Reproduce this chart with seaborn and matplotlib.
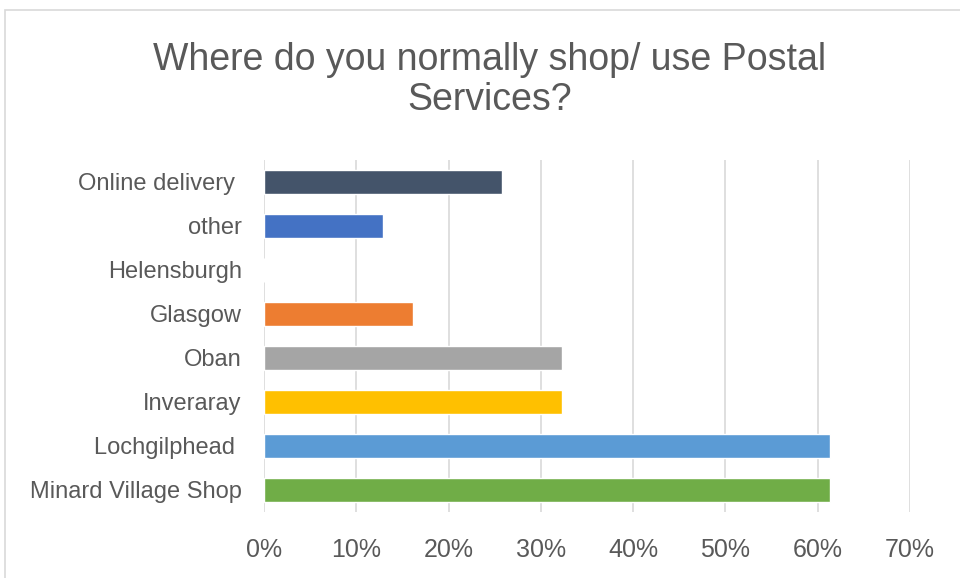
import matplotlib
matplotlib.use("Agg")
import matplotlib.pyplot as plt
import seaborn as sns
import pandas as pd
from matplotlib.patches import Rectangle
from matplotlib.ticker import PercentFormatter

# values (share of respondents, %)
categories = ["Online delivery ", "other", "Helensburgh", "Glasgow", "Oban",
              "Inveraray", "Lochgilphead ", "Minard Village Shop"]
values = [25.8, 12.9, 0.0, 16.1, 32.3, 32.3, 61.3, 61.3]
colors = ["#44546A", "#4472C4", "#A9D18E", "#ED7D31", "#A5A5A5",
          "#FFC000", "#5B9BD5", "#70AD47"]
ticks = [0, 10, 20, 30, 40, 50, 60, 70]

df = pd.DataFrame({"place": categories, "share": values})

sns.set_style("white")
plt.rcParams["font.family"] = ["Liberation Sans", "DejaVu Sans"]
text_col = "#595959"

fig = plt.figure(figsize=(9.6, 5.78), dpi=100)
ax = fig.add_axes([0.275, 0.1142, 0.673, 0.609])

sns.barplot(data=df, x="share", y="place", hue="place", palette=colors,
            legend=False, width=0.55, orient="h", saturation=1, ax=ax)

ax.set_xlim(0, 70)
ax.set_xticks(ticks)
ax.xaxis.set_major_formatter(PercentFormatter(decimals=0))
ax.grid(axis="x", color="#D9D9D9", linewidth=1.2)
ax.set_axisbelow(True)
for s in ax.spines.values():
    s.set_visible(False)
ax.set_xlabel("")
ax.set_ylabel("")
ax.tick_params(axis="x", labelsize=18, colors=text_col, length=0, pad=19)
ax.tick_params(axis="y", labelsize=17, colors=text_col, length=0, pad=16)

fig.text(490 / 960, 1 - 80 / 578, "Where do you normally shop/ use Postal\nServices?",
         ha="center", va="center", fontsize=27, color=text_col, linespacing=1.15)

# chart border (cropped on the right and bottom)
fig.patches.append(Rectangle((5 / 960, -0.1), 1.1, 1 - 10 / 578 + 0.1,
                             transform=fig.transFigure, fill=False,
                             edgecolor="#D9D9D9", linewidth=1.2))

fig.savefig("out.png", dpi=100)
